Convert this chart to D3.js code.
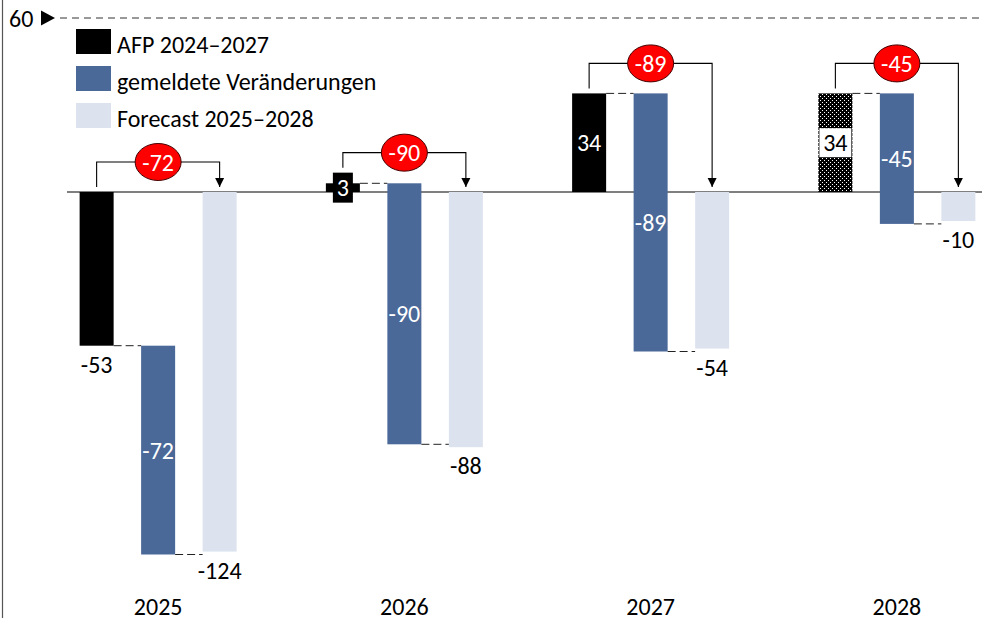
<!DOCTYPE html>
<html><head><meta charset="utf-8">
<script src="https://cdn.jsdelivr.net/npm/d3@7"></script>
<style>
html,body{margin:0;padding:0;background:#fff;}
svg{display:block;font-family:Carlito, Calibri, Lato, "Open Sans", sans-serif;}
</style></head>
<body><svg id="c" width="982" height="618"></svg>
<script>
const years = ["2025","2026","2027","2028"];
const afp = [-53, 3, 34, 34];
const changes = [-72, -90, -89, -45];
const forecast = [-124, -88, -54, -10];
const legendLabels = ["AFP 2024–2027", "gemeldete Veränderungen", "Forecast 2025–2028"];
const refValue = 60;

const colors = {afp:"#000000", chg:"#4a6898", fc:"#dde3ee", red:"#ff0000"};
const FS = 24;
const svg = d3.select("#c");
const W = 982, H = 618;

const y = d3.scaleLinear().domain([-140, 60]).range([598, 18]);
const x = d3.scaleBand().domain(years).range([35, 1020]);
const sub = d3.scaleBand().domain(["afp","chg","fc"]).range([-92.25, 92.25]).paddingInner(0.447).paddingOuter(0.2235);
const bw = sub.bandwidth();
const cx = (yr) => x(yr) + x.bandwidth()/2;

const defs = svg.append("defs");
const pat = defs.append("pattern").attr("id","dots").attr("patternUnits","userSpaceOnUse").attr("width",4).attr("height",4);
pat.append("rect").attr("width",4).attr("height",4).attr("fill","#000");
pat.append("rect").attr("x",0).attr("y",0).attr("width",1).attr("height",1).attr("fill","#fff");
pat.append("rect").attr("x",2).attr("y",2).attr("width",1).attr("height",1).attr("fill","#fff");
defs.append("marker").attr("id","arr").attr("viewBox","0 0 10 10").attr("refX",5).attr("refY",10)
  .attr("markerWidth",10).attr("markerHeight",9).attr("markerUnits","userSpaceOnUse").attr("orient","0")
  .append("path").attr("d","M0,0L10,0L5,10Z").attr("fill","#000");

svg.append("line").attr("x1",2.5).attr("x2",2.5).attr("y1",0).attr("y2",H).attr("stroke","#555").attr("stroke-width",1.2);

svg.append("text").attr("x",9).attr("y",y(refValue)+9).attr("font-size",FS).attr("fill","#000").text(refValue);
svg.append("path").attr("d",`M41,${y(refValue)-7.5}L55,${y(refValue)}L41,${y(refValue)+7.5}Z`).attr("fill","#000");
svg.append("line").attr("x1",60).attr("x2",W).attr("y1",y(refValue)).attr("y2",y(refValue))
  .attr("stroke","#333").attr("stroke-width",1).attr("stroke-dasharray","7,5");

svg.append("line").attr("x1",67).attr("x2",W).attr("y1",y(0)).attr("y2",y(0)).attr("stroke","#000").attr("stroke-width",1.2);

const data = years.map((yr,i)=>({yr, afp:afp[i], chg:changes[i], fc:forecast[i], end:afp[i]+changes[i], extrap:+yr>2027}));

const g = svg.append("g");
data.forEach(d=>{
  const c = cx(d.yr);
  const xa = c + sub("afp"), xc = c + sub("chg"), xf = c + sub("fc");
  g.append("rect").attr("x",xa).attr("width",bw).attr("y",y(Math.max(0,d.afp))).attr("height",Math.abs(y(d.afp)-y(0)))
    .attr("fill", d.extrap ? "url(#dots)" : colors.afp);
  g.append("rect").attr("x",xc).attr("width",bw).attr("y",y(Math.max(d.afp,d.end))).attr("height",Math.abs(y(d.afp)-y(d.end)))
    .attr("fill",colors.chg);
  g.append("rect").attr("x",xf).attr("width",bw).attr("y",y(Math.max(0,d.fc))).attr("height",Math.abs(y(d.fc)-y(0)))
    .attr("fill",colors.fc);
  g.append("line").attr("x1",xa+bw).attr("x2",xc).attr("y1",y(d.afp)).attr("y2",y(d.afp))
    .attr("stroke","#222").attr("stroke-width",1).attr("stroke-dasharray","8,4");
  g.append("line").attr("x1",xc+bw).attr("x2",xf).attr("y1",y(d.end)).attr("y2",y(d.end))
    .attr("stroke","#222").attr("stroke-width",1).attr("stroke-dasharray","8,4");

  const ac = xa + bw/2;
  let topY = y(Math.max(0,d.afp));
  if (d.afp < 0) {
    g.append("text").attr("x",ac).attr("y",y(d.afp)+27).attr("text-anchor","middle").attr("font-size",FS).text(d.afp);
  } else if (Math.abs(y(d.afp)-y(0)) < 30) {
    const my = y(d.afp/2);
    g.append("rect").attr("x",ac-10).attr("y",my-15).attr("width",20).attr("height",30).attr("fill","#000");
    g.append("text").attr("x",ac).attr("y",my+8.5).attr("text-anchor","middle").attr("font-size",FS).attr("fill","#fff").text(d.afp);
    topY = my-15;
  } else if (d.extrap) {
    const my = y(d.afp/2);
    g.append("rect").attr("x",ac-16).attr("y",my-14.5).attr("width",32).attr("height",29).attr("fill","#fff");
    g.append("text").attr("x",ac).attr("y",my+8.5).attr("text-anchor","middle").attr("font-size",FS).attr("fill","#000").text(d.afp);
  } else {
    g.append("text").attr("x",ac).attr("y",y(d.afp/2)+8.5).attr("text-anchor","middle").attr("font-size",FS).attr("fill","#fff").text(d.afp);
  }
  g.append("text").attr("x",xc+bw/2).attr("y",y((d.afp+d.end)/2)+8.5).attr("text-anchor","middle").attr("font-size",FS).attr("fill","#fff").text(d.chg);
  g.append("text").attr("x",xf+bw/2).attr("y",y(Math.min(0,d.fc))+27).attr("text-anchor","middle").attr("font-size",FS).text(d.fc);

  const bY = Math.min(y(Math.max(0,d.afp)), topY + 10) - 30;
  const fcC = xf + bw/2;
  g.append("path").attr("d",`M${ac},${topY-5}V${bY}H${fcC}V${y(0)-5}`).attr("fill","none").attr("stroke","#000").attr("stroke-width",1.1)
    .attr("marker-end","url(#arr)");
  g.append("ellipse").attr("cx",xc+bw/2).attr("cy",bY).attr("rx",23).attr("ry",18.5).attr("fill",colors.red).attr("stroke","#400").attr("stroke-width",1);
  g.append("text").attr("x",xc+bw/2).attr("y",bY+8.5).attr("text-anchor","middle").attr("font-size",FS).attr("fill","#fff").text(d.chg);

  svg.append("text").attr("x",c).attr("y",615).attr("text-anchor","middle").attr("font-size",FS).text(d.yr);
});

const lg = svg.append("g");
[colors.afp, colors.chg, colors.fc].forEach((col,i)=>{
  lg.append("rect").attr("x",76).attr("y",29+i*37).attr("width",35).attr("height",25).attr("fill",col);
  lg.append("text").attr("x",117).attr("y",53+i*37).attr("font-size",FS).text(legendLabels[i]);
});
</script></body></html>
